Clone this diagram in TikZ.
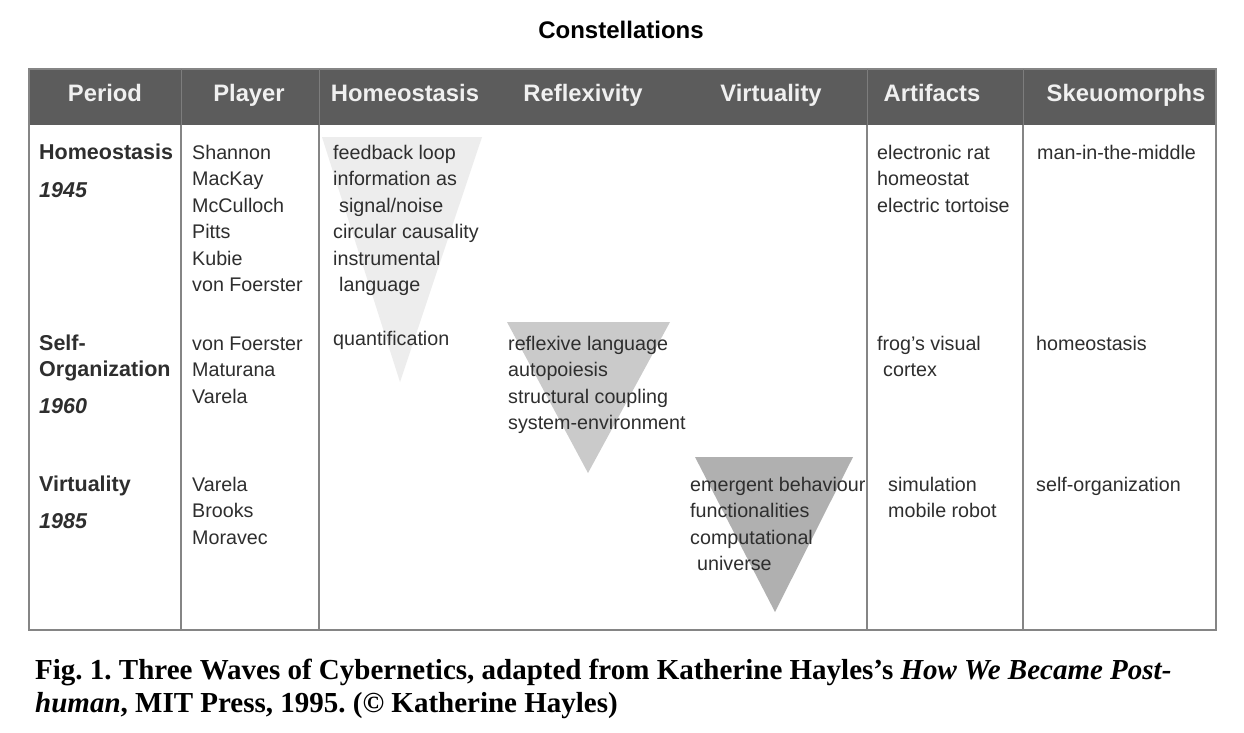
\documentclass[tikz,border=0pt]{standalone}
\usepackage{fontspec}
\setmainfont{Liberation Sans}
\newfontfamily\capfont{Liberation Serif}
\definecolor{hdr}{HTML}{5C5C5C}
\definecolor{rulec}{HTML}{858585}
\definecolor{txt}{HTML}{2E2E2E}
\definecolor{triA}{HTML}{EDEDED}
\definecolor{triB}{HTML}{CACACA}
\definecolor{triC}{HTML}{B0B0B0}
\tikzset{
  bodytext/.style={anchor=base west, inner sep=0pt, text=txt, font=\fontsize{19.7}{23}\selectfont},
  pertext/.style={anchor=base west, inner sep=0pt, text=txt, font=\bfseries\fontsize{21.5}{25}\selectfont},
  yrtext/.style={anchor=base west, inner sep=0pt, text=txt, font=\bfseries\itshape\fontsize{21.5}{25}\selectfont},
  headtext/.style={anchor=base, inner sep=0pt, text=white!94!black, font=\bfseries\fontsize{23.8}{27}\selectfont},
  captext/.style={anchor=base west, inner sep=0pt, text=black, font=\capfont\bfseries\frenchspacing\fontsize{29}{33}\selectfont},
  gridline/.style={draw=rulec, line width=1.4pt},
}
\begin{document}
\begin{tikzpicture}[x=1pt,y=-1pt]
\useasboundingbox[fill=white] (0,0) rectangle (1244,732);
% title
\node[anchor=base, inner sep=0pt, font=\bfseries\fontsize{24}{28}\selectfont] (title) at (621,38) {Constellations};
% header bar
\fill[hdr] (29,69) rectangle (1216,125);
% triangles
\fill[triA] (322,137) -- (482,137) -- (400,382) -- cycle;
\fill[triB] (507,322) -- (670,322) -- (588,473) -- cycle;
\fill[triC] (695,457) -- (853,457) -- (775,612) -- cycle;
% grid
\draw[gridline] (29,69) rectangle (1216,630);
\foreach \x in {181,319,867,1023} {
  \draw[draw=hdr!80!white, line width=1pt] (\x,69) -- (\x,125);
  \draw[gridline] (\x,125) -- (\x,630);
}
% header texts
\node[headtext] (h1) at (105,101) {Period};
\node[headtext] (h2) at (249,101) {Player};
\node[headtext] (h3) at (405,101) {Homeostasis};
\node[headtext] (h4) at (583,101) {Reflexivity};
\node[headtext] (h5) at (771,101) {Virtuality};
\node[headtext] (h6) at (932,101) {Artifacts};
\node[headtext] (h7) at (1126,101) {Skeuomorphs};
% period column
\node[pertext] (p1a) at (39,159) {Homeostasis};
\node[yrtext]  (p1b) at (39,197) {1945};
\node[pertext] (p2a) at (39,350) {Self-};
\node[pertext] (p2b) at (39,376) {Organization};
\node[yrtext]  (p2c) at (39,413) {1960};
\node[pertext] (p3a) at (39,491) {Virtuality};
\node[yrtext]  (p3b) at (39,528) {1985};
% players
\foreach \t [count=\i from 0] in {Shannon,MacKay,McCulloch,Pitts,Kubie,von Foerster}
  \node[bodytext] (pl1-\i) at (192,{159+26.5*\i}) {\t};
\foreach \t [count=\i from 0] in {von Foerster,Maturana,Varela}
  \node[bodytext] (pl2-\i) at (192,{350+26.5*\i}) {\t};
\foreach \t [count=\i from 0] in {Varela,Brooks,Moravec}
  \node[bodytext] (pl3-\i) at (192,{491+26.5*\i}) {\t};
% homeostasis column
\node[bodytext] (ho1) at (333,159) {feedback loop};
\node[bodytext] (ho2) at (333,185.5) {information as};
\node[bodytext] (ho3) at (339,212) {signal/noise};
\node[bodytext] (ho4) at (333,238.5) {circular causality};
\node[bodytext] (ho5) at (333,265) {instrumental};
\node[bodytext] (ho6) at (339,291.5) {language};
\node[bodytext] (ho7) at (333,345) {quantification};
% reflexivity column
\foreach \t [count=\i from 0] in {reflexive language,autopoiesis,structural coupling,system-environment}
  \node[bodytext] (re-\i) at (508,{350+26.5*\i}) {\t};
% virtuality column
\node[bodytext] (vi1) at (690,491) {emergent behaviour};
\node[bodytext] (vi2) at (690,517.5) {functionalities};
\node[bodytext] (vi3) at (690,544) {computational};
\node[bodytext] (vi4) at (697,570.5) {universe};
% artifacts
\node[bodytext] (ar1) at (877,159) {electronic rat};
\node[bodytext] (ar2) at (877,185.5) {homeostat};
\node[bodytext] (ar3) at (877,212) {electric tortoise};
\node[bodytext] (ar4) at (877,350) {frog’s visual};
\node[bodytext] (ar5) at (883,376.5) {cortex};
\node[bodytext] (ar6) at (888,491) {simulation};
\node[bodytext] (ar7) at (888,517.5) {mobile robot};
% skeuomorphs
\node[bodytext] (sk1) at (1037,159) {man-in-the-middle};
\node[bodytext] (sk2) at (1036,350) {homeostasis};
\node[bodytext] (sk3) at (1036,491) {self-organization};
% caption
\node[captext] (c1) at (35,679) {Fig. 1. Three Waves of Cybernetics, adapted from Katherine Hayles’s \textit{How We Became Post-}};
\node[captext] (c2) at (35,712) {\textit{human}, MIT Press, 1995. (© Katherine Hayles)};
\end{tikzpicture}
\end{document}
